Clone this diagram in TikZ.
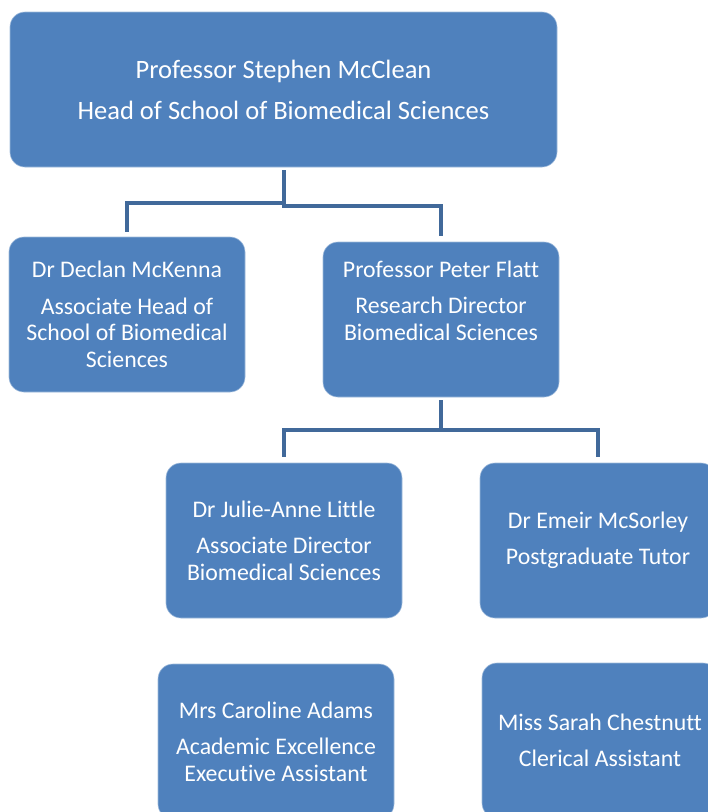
\documentclass[tikz,border=0pt]{standalone}
\usepackage{fontspec}
\setmainfont{Carlito}[Ligatures=NoCommon]
\definecolor{boxblue}{HTML}{4F81BD}
\definecolor{linkblue}{HTML}{41699A}
\begin{document}
\begin{tikzpicture}[x=1pt,y=-1pt,
  box/.style={draw=boxblue!55!white, line width=0.6pt, fill=boxblue, rounded corners=15pt,
    minimum width=236pt, minimum height=155pt, text=white, align=center,
    font=\fontsize{23.8}{26.5}\selectfont},
  boxtext/.style={text=white, align=center, font=\fontsize{23.8}{26.5}\selectfont},
  link/.style={draw=linkblue, line width=4pt}]
\clip (0,0) rectangle (708,812);
\node[box, minimum width=547pt, font=\fontsize{26.5}{30}\selectfont] (head) at (283.5,89.5)
  {Professor Stephen McClean\\[11pt]Head of School of Biomedical Sciences};

\node[box] (declan) at (127,314.5)
  {Dr Declan McKenna\\[10pt]Associate Head of\\School of Biomedical\\Sciences};
\node[box] (flatt) at (441,319.5) {};
\node[boxtext] (flatt-txt) at (441,300.5)
  {Professor Peter Flatt\\[10pt]Research Director\\Biomedical Sciences};

\node[box] (julie) at (284,540.5)
  {Dr Julie-Anne Little\\[10pt]Associate Director\\Biomedical Sciences};
\node[box] (emeir) at (598,540.5)
  {Dr Emeir McSorley\\[10pt]Postgraduate Tutor};

\node[box] (caroline) at (276,741.5)
  {Mrs Caroline Adams\\[10pt]Academic Excellence\\Executive Assistant};
\node[box] (sarah) at (600,740.5)
  {Miss Sarah Chestnutt\\[10pt]Clerical Assistant};

\draw[link, shorten <=3pt, shorten >=5pt] (head.south) -- ++(0,36) -| (declan.north);
\draw[link, shorten <=3pt, shorten >=6pt] (head.south) -- ++(0,39) -| (flatt.north);
\draw[link, shorten <=3pt, shorten >=6pt] (flatt.south) -- ++(0,33) -| (julie.north);
\draw[link, shorten <=3pt, shorten >=6pt] (flatt.south) -- ++(0,33) -| (emeir.north);
\end{tikzpicture}
\end{document}
